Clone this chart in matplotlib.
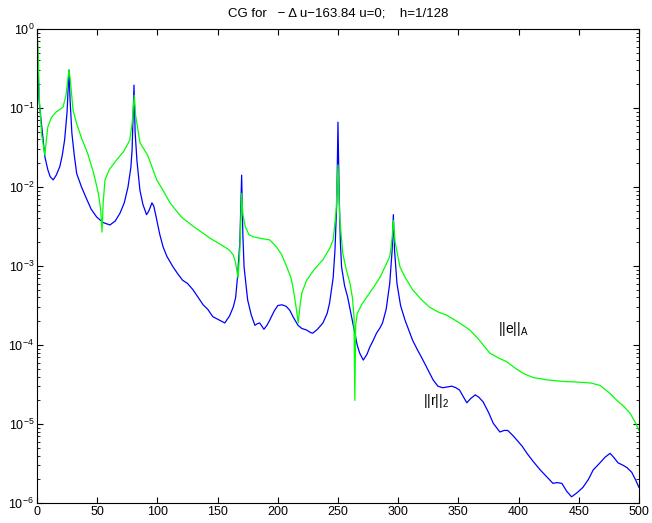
import numpy as np
import matplotlib
matplotlib.use("Agg")
import matplotlib.pyplot as plt
from matplotlib.ticker import LogLocator, FixedLocator

plt.rcParams['font.family'] = ['Liberation Sans', 'DejaVu Sans']
plt.rcParams['mathtext.fontset'] = 'custom'
plt.rcParams['mathtext.rm'] = 'Liberation Sans'
plt.rcParams['mathtext.it'] = 'Liberation Sans'

# iteration number and log10 of the norms
err_it = [0, 1, 2, 4, 6.6, 7.5, 9, 12, 16, 21.6, 24, 26.6, 27.5, 30, 33, 37, 42, 47, 51, 53, 54, 55,
          56.5, 60, 66, 72, 77, 79, 80.8, 82, 85.6, 92, 99.5, 105, 110.5, 120, 130, 144, 155, 160,
          163, 165, 167, 168.5, 170, 171, 173, 176, 179.6, 186, 193.5, 199, 203, 207.5, 211, 213,
          215.5, 217, 218.5, 220, 224, 230, 237.5, 243, 246, 248.5, 250, 251.5, 254, 257, 260, 262,
          263.3, 264, 264.7, 266, 270, 274, 280, 285, 290, 293, 295, 296, 297.5, 301.5, 306, 312,
          319, 326, 333, 340, 350, 359.6, 367, 376, 383, 390, 397, 404, 412, 423.5, 437, 451, 460,
          467.6, 475, 481.7, 487, 492.5, 497, 500]
err_log = [0, -0.3, -0.9, -1.35, -1.6, -1.45, -1.24, -1.12, -1.05, -0.99, -0.85, -0.52, -0.62, -1.03,
           -1.2, -1.38, -1.57, -1.82, -2.08, -2.3, -2.57, -2.2, -1.91, -1.78, -1.66, -1.55, -1.41,
           -1.2, -0.84, -1.1, -1.44, -1.6, -1.91, -2.05, -2.2, -2.38, -2.5, -2.65, -2.75, -2.8,
           -2.86, -2.96, -3.15, -2.8, -2.08, -2.35, -2.5, -2.6, -2.63, -2.65, -2.67, -2.76, -2.85,
           -3.01, -3.15, -3.3, -3.55, -3.72, -3.5, -3.34, -3.18, -3.05, -2.92, -2.78, -2.67, -2.3,
           -1.72, -2.4, -2.84, -3.05, -3.22, -3.4, -3.64, -4.7, -3.75, -3.6, -3.48, -3.39, -3.26,
           -3.14, -2.98, -2.88, -2.65, -2.42, -2.7, -3.01, -3.15, -3.3, -3.42, -3.52, -3.58, -3.62,
           -3.71, -3.81, -3.93, -4.1, -4.16, -4.21, -4.29, -4.36, -4.41, -4.44, -4.46, -4.47, -4.48,
           -4.51, -4.6, -4.70, -4.77, -4.86, -4.98, -5.08]

res_it = [0, 1, 1.7, 4, 6.6, 9, 11, 13.5, 16, 19, 21, 23, 25, 26.6, 27.5, 29, 31, 33, 37, 41.5, 45,
          49.6, 55, 60.6, 65, 69, 72.5, 75.6, 78, 79, 80.6, 81.5, 83, 85.5, 88, 91, 93, 95.5, 97, 99,
          102, 104.8, 108, 113, 117, 121, 125, 129.6, 134, 138, 142, 146, 151, 156, 160, 163, 165,
          166.5, 168.5, 170, 171, 172, 175, 178, 181, 183, 185, 188.5, 191, 193.5, 197, 200, 203.5,
          207, 210, 213, 216.8, 220, 224, 227, 229, 233, 237.5, 241, 243, 246, 247.5, 249, 250, 251,
          252, 253, 255.5, 258, 261, 264, 266, 268, 271, 274, 276.6, 279, 282, 285, 287, 290, 293,
          295, 296, 297, 299, 302, 305.6, 309, 312, 316, 320.6, 325, 329, 333, 337, 341, 344.5, 348,
          351, 354, 357, 360, 364, 367, 370.6, 375, 379, 384.5, 388, 391, 395, 398.5, 403, 407, 412,
          418, 423, 428.6, 432, 436, 440, 444, 448.5, 453.5, 458, 462, 467, 471.8, 476, 479, 482.6,
          486.7, 490, 494, 497, 500]
res_log = [0, -0.5, -0.9, -1.24, -1.62, -1.78, -1.87, -1.91, -1.85, -1.74, -1.6, -1.4, -1.05, -0.52,
           -0.9, -1.32, -1.6, -1.83, -2.0, -2.16, -2.28, -2.38, -2.45, -2.48, -2.43, -2.33, -2.2,
           -2.0, -1.75, -1.53, -0.71, -1.3, -1.66, -2.04, -2.22, -2.35, -2.3, -2.2, -2.24, -2.38,
           -2.6, -2.76, -2.88, -3.01, -3.1, -3.18, -3.22, -3.3, -3.4, -3.49, -3.55, -3.64, -3.68,
           -3.72, -3.63, -3.52, -3.4, -3.15, -2.7, -1.85, -2.6, -3.01, -3.43, -3.62, -3.75, -3.73,
           -3.72, -3.8, -3.75, -3.68, -3.57, -3.5, -3.49, -3.51, -3.56, -3.65, -3.75, -3.79, -3.81,
           -3.84, -3.85, -3.8, -3.72, -3.6, -3.47, -3.15, -2.8, -2.2, -1.18, -2.1, -2.7, -3.01,
           -3.25, -3.39, -3.62, -3.85, -4.0, -4.1, -4.19, -4.12, -4.02, -3.95, -3.85, -3.78, -3.72,
           -3.55, -3.22, -2.8, -2.35, -2.8, -3.22, -3.5, -3.68, -3.82, -3.94, -4.06, -4.19, -4.32,
           -4.44, -4.52, -4.54, -4.53, -4.52, -4.54, -4.57, -4.65, -4.73, -4.68, -4.63, -4.66,
           -4.72, -4.85, -4.99, -5.1, -5.08, -5.08, -5.14, -5.2, -5.28, -5.37, -5.47, -5.58, -5.66,
           -5.75, -5.74, -5.75, -5.85, -5.92, -5.87, -5.8, -5.7, -5.58, -5.5, -5.42, -5.37, -5.42,
           -5.49, -5.52, -5.55, -5.61, -5.7, -5.8]

x_ticks = [0, 50, 100, 150, 200, 250, 300, 350, 400, 450, 500]

fig = plt.figure(figsize=(6.52, 5.23), dpi=100)
ax = fig.add_axes([0.0567, 0.038, 0.9233, 0.9066])

ax.semilogy(res_it, 10.0 ** np.array(res_log), color=(0, 0, 1), lw=0.9)
ax.semilogy(err_it, 10.0 ** np.array(err_log), color=(0, 1, 0), lw=0.9)

ax.set_xlim(0, 500)
ax.set_ylim(1e-6, 1e0)
ax.xaxis.set_major_locator(FixedLocator(x_ticks))
ax.yaxis.set_major_locator(LogLocator(base=10, numticks=10))
ax.yaxis.set_minor_locator(LogLocator(base=10, subs=np.arange(2, 10), numticks=10))
ax.tick_params(which='both', direction='in', top=True, right=True, labelsize=9, pad=2)
ax.tick_params(axis='x', pad=2)
ax.tick_params(which='major', length=4)
ax.tick_params(which='minor', length=2)
for s in ax.spines.values():
    s.set_linewidth(0.8)

ax.text(383, 10 ** -3.85, r'||e||$_\mathregular{A}$', fontsize=10)
ax.text(321, 10 ** -4.76, r'||r||$_\mathregular{2}$', fontsize=10)
ax.set_title('CG for   \u2212 \u0394 u\u2212163.84 u=0;    h=1/128', fontsize=9.5, pad=9)

fig.savefig("out.png", dpi=100)
